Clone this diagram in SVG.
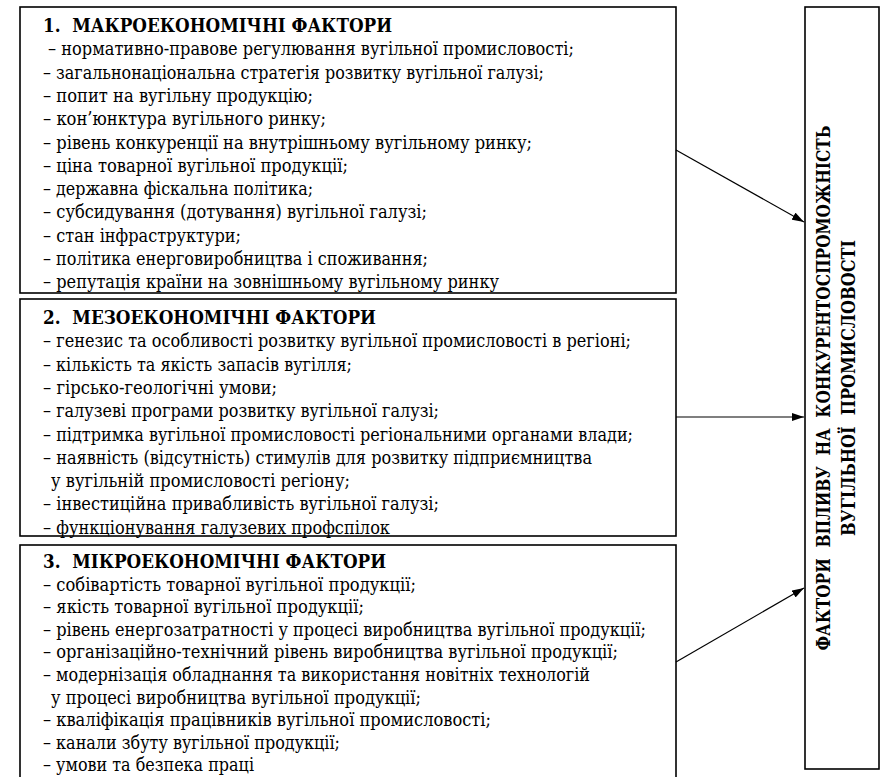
<svg xmlns="http://www.w3.org/2000/svg" width="886" height="777" viewBox="0 0 886 777">
<defs>
<style>
.box{fill:#fff;stroke:#000;stroke-width:1.6}
.t{font-family:"DejaVu Serif",serif;font-size:18px;fill:#000}
.h{font-family:"DejaVu Serif",serif;font-size:19px;font-weight:bold;fill:#000}
.v{font-family:"DejaVu Serif",serif;font-size:19px;font-weight:bold;fill:#000}
.c{stroke:#000;stroke-width:1.2;fill:none}
</style>
<marker id="ah" viewBox="0 0 12 8" refX="12" refY="4" markerWidth="12" markerHeight="8" markerUnits="userSpaceOnUse" orient="auto">
<path d="M0,0 L12,4 L0,8 Z" fill="#000"/>
</marker>
</defs>
<rect width="886" height="777" fill="#fff"/>
<g id="macro">
<rect class="box" x="20" y="7" width="656" height="286"/>
<text class="h" x="43" y="32" textLength="349" lengthAdjust="spacingAndGlyphs" xml:space="preserve">1.  МАКРОЕКОНОМІЧНІ ФАКТОРИ</text>
<text class="t" x="48" y="55.3" textLength="526" lengthAdjust="spacingAndGlyphs">– нормативно-правове регулювання вугільної промисловості;</text>
<text class="t" x="43" y="78.6" textLength="501" lengthAdjust="spacingAndGlyphs">– загальнонаціональна стратегія розвитку вугільної галузі;</text>
<text class="t" x="43" y="101.9" textLength="270" lengthAdjust="spacingAndGlyphs">– попит на вугільну продукцію;</text>
<text class="t" x="43" y="125.2" textLength="283" lengthAdjust="spacingAndGlyphs">– кон’юнктура вугільного ринку;</text>
<text class="t" x="43" y="148.5" textLength="489" lengthAdjust="spacingAndGlyphs">– рівень конкуренції на внутрішньому вугільному ринку;</text>
<text class="t" x="43" y="171.8" textLength="305" lengthAdjust="spacingAndGlyphs">– ціна товарної вугільної продукції;</text>
<text class="t" x="43" y="195.1" textLength="270" lengthAdjust="spacingAndGlyphs">– державна фіскальна політика;</text>
<text class="t" x="43" y="218.4" textLength="384" lengthAdjust="spacingAndGlyphs">– субсидування (дотування) вугільної галузі;</text>
<text class="t" x="43" y="241.7" textLength="198" lengthAdjust="spacingAndGlyphs">– стан інфраструктури;</text>
<text class="t" x="43" y="265" textLength="385" lengthAdjust="spacingAndGlyphs">– політика енерговиробництва і споживання;</text>
<text class="t" x="43" y="288.3" textLength="456" lengthAdjust="spacingAndGlyphs">– репутація країни на зовнішньому вугільному ринку</text>
</g>
<g id="meso">
<rect class="box" x="20" y="299" width="656" height="237"/>
<text class="h" x="43" y="324" textLength="333" lengthAdjust="spacingAndGlyphs" xml:space="preserve">2.  МЕЗОЕКОНОМІЧНІ ФАКТОРИ</text>
<text class="t" x="43" y="347.3" textLength="588" lengthAdjust="spacingAndGlyphs">– генезис та особливості розвитку вугільної промисловості в регіоні;</text>
<text class="t" x="43" y="370.6" textLength="309" lengthAdjust="spacingAndGlyphs">– кількість та якість запасів вугілля;</text>
<text class="t" x="43" y="393.9" textLength="234" lengthAdjust="spacingAndGlyphs">– гірсько-геологічні умови;</text>
<text class="t" x="43" y="417.2" textLength="396" lengthAdjust="spacingAndGlyphs">– галузеві програми розвитку вугільної галузі;</text>
<text class="t" x="43" y="440.5" textLength="590" lengthAdjust="spacingAndGlyphs">– підтримка вугільної промисловості регіональними органами влади;</text>
<text class="t" x="43" y="463.8" textLength="549" lengthAdjust="spacingAndGlyphs">– наявність (відсутність) стимулів для розвитку підприємництва</text>
<text class="t" x="51" y="487.1" textLength="299" lengthAdjust="spacingAndGlyphs">у вугільній промисловості регіону;</text>
<text class="t" x="43" y="510.4" textLength="396" lengthAdjust="spacingAndGlyphs">– інвестиційна привабливість вугільної галузі;</text>
<text class="t" x="43" y="533.7" textLength="347" lengthAdjust="spacingAndGlyphs">– функціонування галузевих профспілок</text>
</g>
<g id="micro">
<rect class="box" x="20" y="545" width="656" height="250"/>
<text class="h" x="43" y="568" textLength="343" lengthAdjust="spacingAndGlyphs" xml:space="preserve">3.  МІКРОЕКОНОМІЧНІ ФАКТОРИ</text>
<text class="t" x="43" y="590.6" textLength="373" lengthAdjust="spacingAndGlyphs">– собівартість товарної вугільної продукції;</text>
<text class="t" x="43" y="613.2" textLength="321" lengthAdjust="spacingAndGlyphs">– якість товарної вугільної продукції;</text>
<text class="t" x="43" y="635.8" textLength="603" lengthAdjust="spacingAndGlyphs">– рівень енергозатратності у процесі виробництва вугільної продукції;</text>
<text class="t" x="43" y="658.4" textLength="575" lengthAdjust="spacingAndGlyphs">– організаційно-технічний рівень виробництва вугільної продукції;</text>
<text class="t" x="43" y="681" textLength="547" lengthAdjust="spacingAndGlyphs">– модернізація обладнання та використання новітніх технологій</text>
<text class="t" x="51" y="703.6" textLength="370" lengthAdjust="spacingAndGlyphs">у процесі виробництва вугільної продукції;</text>
<text class="t" x="43" y="726.2" textLength="448" lengthAdjust="spacingAndGlyphs">– кваліфікація працівників вугільної промисловості;</text>
<text class="t" x="43" y="748.8" textLength="297" lengthAdjust="spacingAndGlyphs">– канали збуту вугільної продукції;</text>
<text class="t" x="43" y="771.4" textLength="211" lengthAdjust="spacingAndGlyphs">– умови та безпека праці</text>
</g>
<g id="result">
<rect class="box" x="805" y="7" width="74" height="762"/>
<text class="v" text-anchor="middle" transform="translate(830,388) rotate(-90)" textLength="525" lengthAdjust="spacingAndGlyphs" xml:space="preserve">ФАКТОРИ  ВПЛИВУ  НА  КОНКУРЕНТОСПРОМОЖНІСТЬ</text>
<text class="v" text-anchor="middle" transform="translate(855,388) rotate(-90)" textLength="296" lengthAdjust="spacingAndGlyphs" xml:space="preserve">ВУГІЛЬНОЇ  ПРОМИСЛОВОСТІ</text>
</g>
<g id="connectors">
<line class="c" x1="676" y1="150" x2="804" y2="222" marker-end="url(#ah)"/>
<line class="c" x1="676" y1="417" x2="804" y2="417" marker-end="url(#ah)"/>
<line class="c" x1="676" y1="662" x2="804" y2="588" marker-end="url(#ah)"/>
</g>
</svg>
